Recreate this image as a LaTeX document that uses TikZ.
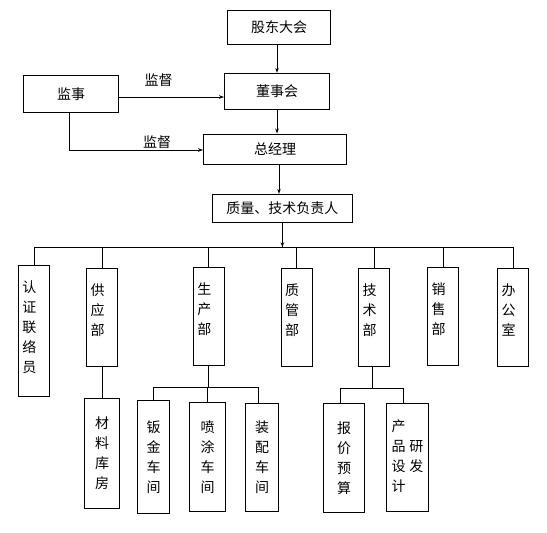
\documentclass[tikz,border=0pt]{standalone}
\usepackage{fontspec}
\usetikzlibrary{arrows.meta}
\newfontfamily\cjk{Noto Sans CJK SC}
\newcommand{\uptext}[2][6pt]{\raisebox{#1}[\height][\depth]{\begin{tabular}{@{}c@{\hspace{9pt}}}#2\end{tabular}}}

\begin{document}
\begin{tikzpicture}[x=1pt,y=-1pt,line width=0.9pt,
  >={Stealth[length=5pt,width=3.5pt]},
  every node/.style={font=\cjk\fontsize{14}{20}\selectfont, inner sep=0pt},
  box/.style={draw},
  vbox/.style={draw, align=center, minimum width=31pt, minimum height=98pt},
  subbox/.style={draw, align=center}]
  \useasboundingbox (0,0) rectangle (547,533);

  % top: shareholders, board, supervisor
  \node[box, minimum width=103pt, minimum height=34pt] (gudong) at (279,27.3) {股东大会};
  \node[box, minimum width=105pt, minimum height=36pt] (dongshi) at (277,91.3) {董事会};
  \node[box, minimum width=95pt, minimum height=37pt] (jianshi) at (71,94) {监事};
  \node[box, minimum width=143pt, minimum height=30pt] (zongjl) at (275,149) {总经理};
  \node[box, minimum width=140pt, minimum height=28pt] (fuzeren) at (282.4,208.3) {质量、技术负责人};

  \draw[->] (dongshi.north |- gudong.south) -- (dongshi.north);
  \draw[->] (dongshi.south) -- (dongshi.south |- zongjl.north);
  \draw[->] ([xshift=4pt]zongjl.south) -- ([xshift=4pt]zongjl.south |- fuzeren.north);

  % supervision lines
  \draw[->] ([yshift=-3pt]jianshi.east) -- ([yshift=-3pt]jianshi.east -| dongshi.west);
  \draw[->] ([xshift=-2pt]jianshi.south) |- ([yshift=-1pt]zongjl.west);
  \node (jiandu1) at (158.7,80) {监督};
  \node (jiandu2) at (157,142) {监督};

  % departments
  \node[vbox, minimum height=131pt] (renzheng) at (34,330.5) {\uptext[2pt]{认\\证\\联\\络\\员}};
  \node[vbox] (gongying) at (102,317.5) {\uptext{供\\应\\部}};
  \node[vbox] (shengchan) at (208.8,316.5) {\uptext{生\\产\\部}};
  \node[vbox] (zhiguan) at (296.7,317.5) {\uptext{质\\管\\部}};
  \node[vbox] (jishu) at (374,317.3) {\uptext{技\\术\\部}};
  \node[vbox] (xiaoshou) at (443,316.3) {\uptext{销\\售\\部}};
  \node[vbox] (bangong) at (513,317.5) {\uptext{办\\公\\室}};

  \coordinate (bus) at (0,247.3);
  \draw[->] (fuzeren.south) -- (fuzeren.south |- bus);
  \draw (renzheng.north |- bus) -- (bangong.north |- bus);
  \foreach \n in {renzheng,gongying,shengchan,zhiguan,jishu,xiaoshou,bangong}
    \draw (\n.north |- bus) -- (\n.north);

  % workshops and sections
  \node[subbox, minimum width=35.4pt, minimum height=110pt] (cailiao) at (102,453.3) {材\\料\\库\\房};
  \node[subbox, minimum width=32.4pt, minimum height=113.4pt] (banjin) at (153.5,457) {钣\\金\\车\\间};
  \node[subbox, minimum width=36.4pt, minimum height=109pt] (pentu) at (207.5,456.8) {喷\\涂\\车\\间};
  \node[subbox, minimum width=33.4pt, minimum height=108pt] (zhuangpei) at (262,457.3) {装\\配\\车\\间};
  \node[subbox, minimum width=41.4pt, minimum height=108.7pt] (baojia) at (344,457.7) {报\\价\\预\\算};
  \node[subbox, minimum width=42.4pt, minimum height=107.7pt] (yanfa) at (407.5,457.2)
    {\begin{tabular}{@{}c@{\hspace{3.7pt}}c@{}}产&\\品&研\\设&发\\计&\end{tabular}};

  \draw (gongying.south) -- (gongying.south |- cailiao.north);

  \coordinate (scbus) at (0,387.3);
  \draw (shengchan.south) -- (shengchan.south |- scbus);
  \draw (banjin.north |- scbus) -- ([xshift=-4pt]zhuangpei.north |- scbus);
  \draw (banjin.north |- scbus) -- (banjin.north);
  \draw (pentu.north |- scbus) -- (pentu.north);
  \draw ([xshift=-4pt]zhuangpei.north |- scbus) -- ([xshift=-4pt]zhuangpei.north);

  \coordinate (jsbus) at (0,388.3);
  \draw ([xshift=-2pt]jishu.south) -- ([xshift=-2pt]jishu.south |- jsbus);
  \draw ([xshift=-4pt]baojia.north |- jsbus) -- ([xshift=-4pt]yanfa.north |- jsbus);
  \draw ([xshift=-4pt]baojia.north |- jsbus) -- ([xshift=-4pt]baojia.north);
  \draw ([xshift=-4pt]yanfa.north |- jsbus) -- ([xshift=-4pt]yanfa.north);
\end{tikzpicture}
\end{document}
